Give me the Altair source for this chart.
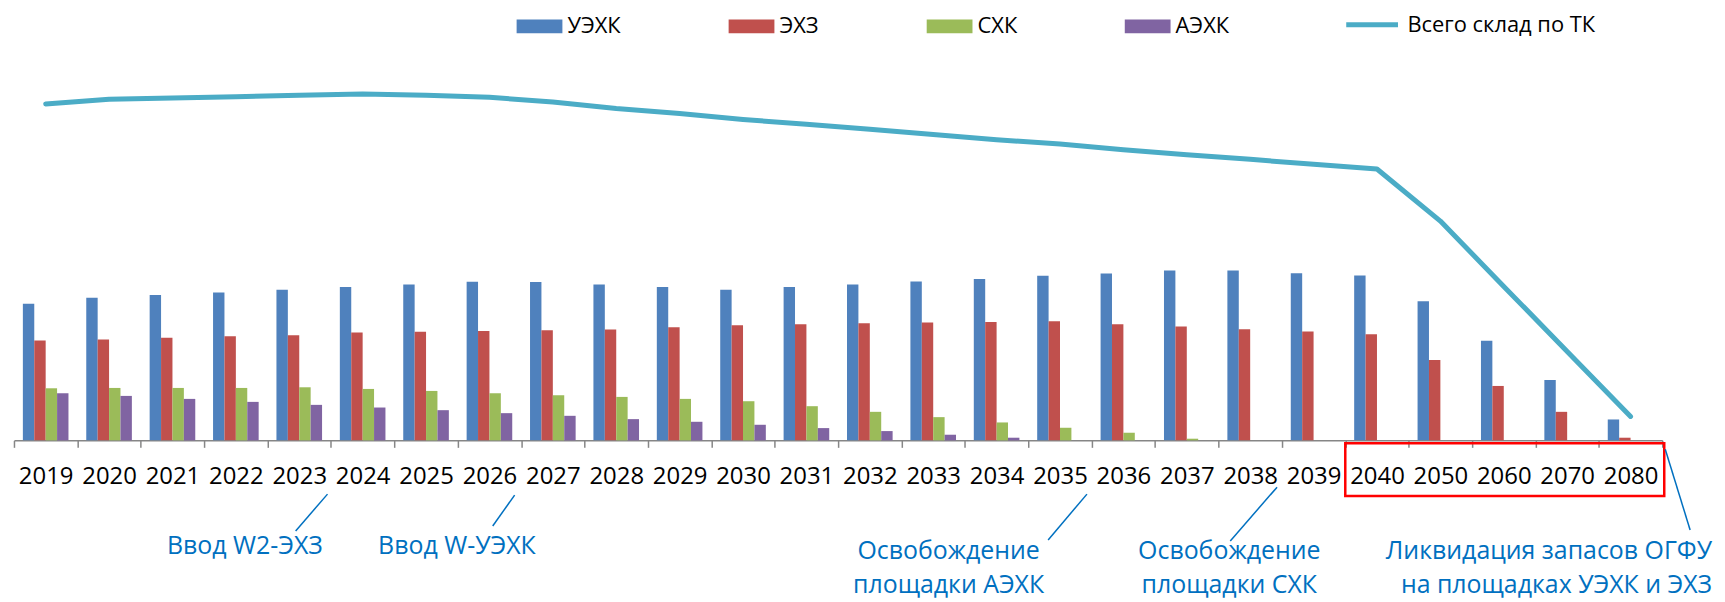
import altair as alt
import pandas as pd

# ---------------- data ----------------
years = [str(y) for y in range(2019, 2040)] + ["2040", "2050", "2060", "2070", "2080"]
series_names = ["УЭХК", "ЭХЗ", "СХК", "АЭХК"]
series_colors = ["#4F81BD", "#C0504D", "#9BBB59", "#8064A2"]

uekhk = [412, 430, 438, 446, 454, 462, 470, 478, 477,
         470, 462, 454, 462, 470, 479, 486, 496, 503, 512,
         512, 504, 497, 419, 300, 182, 63]
ekhz = [301, 304, 309, 314, 317, 325, 327, 330, 332,
        334, 341, 347, 350, 353, 355, 357, 359, 350, 343,
        335, 328, 320, 242, 164, 86, 8]
skhk = [157, 158, 158, 158, 160, 155, 149, 142, 136,
        131, 125, 118, 103, 86, 70, 54, 38, 23, 5,
        0, 0, 0, 0, 0, 0, 0]
aekhk = [142, 134, 125, 116, 107, 99, 91, 82, 74,
         64, 56, 47, 37, 28, 17, 8, 0, 0, 0,
         0, 0, 0, 0, 0, 0, 0]

line_name = "Всего склад по ТК"
line_color = "#4BACC6"
total = [1014, 1028, 1032, 1036, 1040, 1044, 1040, 1034, 1020,
         1000, 985, 967, 953, 938, 922, 906, 893, 876, 861,
         847, 832, 818, 661, 464, 268, 72]

annotations = [
    ["Ввод W2-ЭХЗ"],
    ["Ввод W-УЭХК"],
    ["Освобождение", "площадки АЭХК"],
    ["Освобождение", "площадки СХК"],
    ["Ликвидация запасов ОГФУ", "на площадках УЭХК и ЭХЗ"],
]

# ---------------- layout ----------------
W, H = 1656, 380
PAD = {"left": 6, "top": 53, "right": 55, "bottom": 161}
FONT = "Open Sans"
ANN_COLOR = "#0070C0"

# annotation text anchors (plot coords) : x, y(baseline of first line), align
ann_pos = [(232, 494, "center"), (445, 494, "center"), (939, 499, "center"),
           (1221, 499, "center"), (1706, 499, "right")]
# leader lines (plot coords): x1, y1, x2, y2
leaders = [(315, 434, 283, 471), (503, 435, 481, 466), (1078, 434, 1039, 480),
           (1269, 427, 1222, 481), (1659, 389, 1684, 470)]

# ---------------- frames ----------------
rows = []
for name, vals in zip(series_names, [uekhk, ekhz, skhk, aekhk]):
    for yr, v in zip(years, vals):
        rows.append({"year": yr, "series": name, "value": v})
df_bars = pd.DataFrame(rows)
df_line = pd.DataFrame({"year": years, "total": total, "name": line_name})
one = pd.DataFrame({"k": [0]})

x_enc = alt.X(
    "year:O", sort=years,
    scale=alt.Scale(paddingInner=0, paddingOuter=0),
    axis=alt.Axis(title=None, labelAngle=0, tickBand="extent",
                  domainColor="#868686", domainWidth=1.5,
                  tickColor="#868686", tickWidth=1.5, tickSize=7,
                  labelFont=FONT, labelFontSize=24, labelColor="black",
                  labelPadding=17, grid=False),
)
y_scale = alt.Scale(domain=[0, 1140])

bars = alt.Chart(df_bars).mark_bar().encode(
    x=x_enc,
    y=alt.Y("value:Q", scale=y_scale, axis=None),
    xOffset=alt.XOffset("series:N", sort=series_names,
                        scale=alt.Scale(paddingInner=0, paddingOuter=0.78)),
    fill=alt.Fill(
        "series:N", sort=series_names,
        scale=alt.Scale(domain=series_names, range=series_colors),
        legend=alt.Legend(
            title=None, orient="none", legendX=505, legendY=-59,
            direction="horizontal", columns=4, columnPadding=108,
            symbolType="M-1,-0.3H1V0.3H-1Z", symbolSize=2116,
            symbolStrokeWidth=0, labelOffset=5,
            labelFont=FONT, labelFontSize=22, labelColor="black", labelLimit=400,
        ),
    ),
)

line = alt.Chart(df_line).mark_line(strokeWidth=5, strokeCap="round", strokeJoin="round").encode(
    x=alt.X("year:O", sort=years),
    y=alt.Y("total:Q", scale=y_scale, axis=None),
    stroke=alt.Stroke(
        "name:N",
        scale=alt.Scale(domain=[line_name], range=[line_color]),
        legend=alt.Legend(
            title=None, orient="none", legendX=1336, legendY=-66,
            symbolType="stroke", symbolSize=2704, symbolStrokeWidth=5,
            labelOffset=7, labelFont=FONT, labelFontSize=22,
            labelColor="black", labelLimit=400,
        ),
    ),
)

box = alt.Chart(one).mark_rect(fillOpacity=0, stroke="#FF0000", strokeWidth=2.5).encode(
    x=alt.value(W * 21 / 26), x2=alt.value(W + 2),
    y=alt.value(H + 3), y2=alt.value(H + 56),
)

layers = [bars, line, box]
for (x1, y1, x2, y2) in leaders:
    layers.append(
        alt.Chart(one).mark_rule(color=ANN_COLOR, strokeWidth=1.5).encode(
            x=alt.value(x1), y=alt.value(y1), x2=alt.value(x2), y2=alt.value(y2)
        )
    )
for lines_txt, (ax, ay, al) in zip(annotations, ann_pos):
    layers.append(
        alt.Chart(one).mark_text(
            align=al, baseline="alphabetic", font=FONT, fontSize=25,
            color=ANN_COLOR, lineHeight=34,
        ).encode(x=alt.value(ax), y=alt.value(ay), text=alt.value(lines_txt))
    )

chart = alt.layer(*layers).properties(
    width=W, height=H, padding=PAD,
    autosize=alt.AutoSizeParams(type="none"),
    background="white",
).configure_view(stroke=None)

chart.save("out.html", embed_options={"renderer": "svg", "actions": False})
